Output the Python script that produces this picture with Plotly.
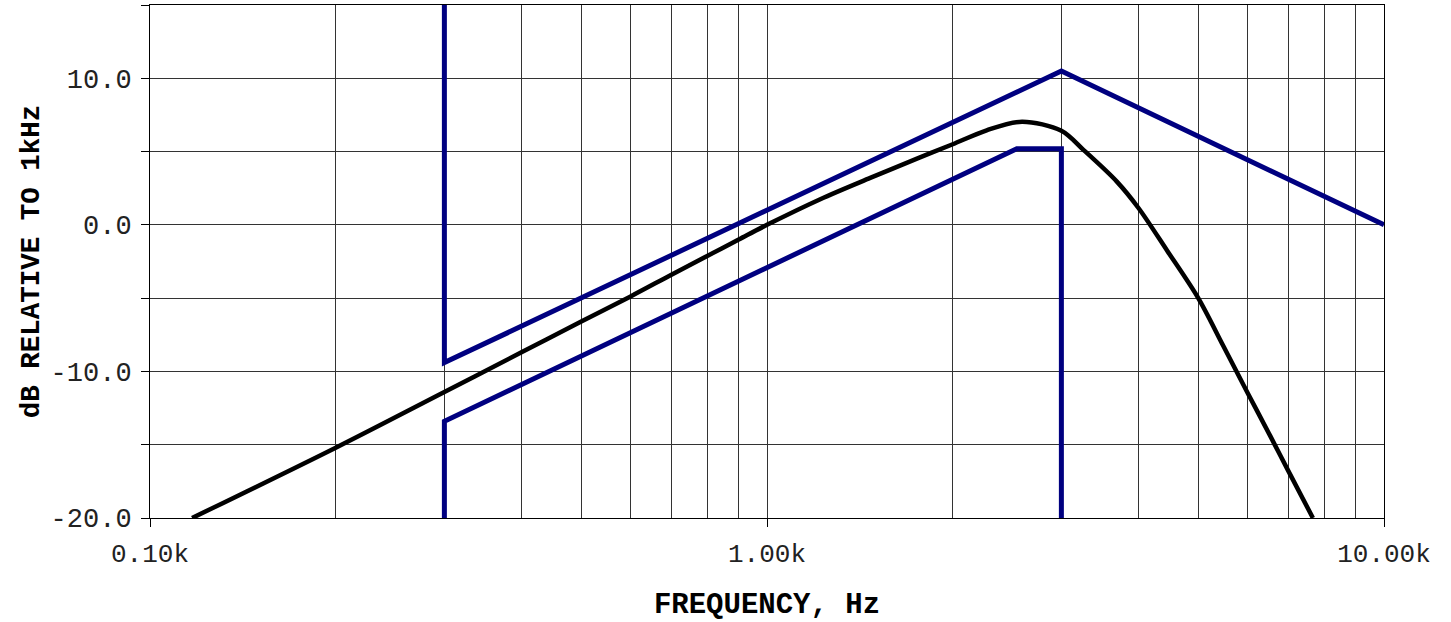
import plotly.graph_objects as go

# Measured response (frequency in Hz, level in dB relative to 1 kHz)
resp_freq = [117, 200, 300, 400, 500, 600, 700, 800, 900, 1000, 1220, 1470, 1770,
             2000, 2270, 2590, 3000, 3260, 3690, 4000, 4450, 5000, 5480, 6000,
             6540, 7000, 7670]
resp_db = [-20.0, -15.2, -11.4, -8.7, -6.6, -4.9, -3.4, -2.12, -1.0, 0.0, 1.75,
           3.2, 4.6, 5.5, 6.45, 7.04, 6.42, 5.1, 2.95, 1.15, -1.75, -5.0, -8.2,
           -11.4, -14.4, -16.8, -20.0]

# Upper tolerance limit
upper_freq = [300, 300, 3000, 10000]
upper_db = [15.0, -9.4, 10.5, 0.0]

# Lower tolerance limit
lower_freq = [300, 300, 2540, 3000, 3000]
lower_db = [-20.0, -13.4, 5.2, 5.2, -20.0]

# Axis ticks
x_tickvals = [100, 1000, 10000]
x_ticktext = ["0.10k", "1.00k", "10.00k"]
x_gridvals = [200, 300, 400, 500, 600, 700, 800, 900,
              2000, 3000, 4000, 5000, 6000, 7000, 8000, 9000]
y_tickvals = [-20, -15, -10, -5, 0, 5, 10, 15]
y_ticktext = ["-20.0", "", "-10.0", "", "0.0", "", "10.0", ""]

MONO = "Liberation Mono"
NAVY = "#000080"
GRID = "#333333"

fig = go.Figure()
fig.add_trace(go.Scatter(x=upper_freq, y=upper_db, mode="lines",
                         line=dict(color=NAVY, width=5), showlegend=False))
fig.add_trace(go.Scatter(x=lower_freq, y=lower_db, mode="lines",
                         line=dict(color=NAVY, width=5), showlegend=False))
fig.add_trace(go.Scatter(x=resp_freq, y=resp_db, mode="lines",
                         line=dict(color="black", width=4.5, shape="spline", smoothing=0.9),
                         showlegend=False))

fig.update_layout(
    width=1451, height=622,
    margin=dict(l=150, r=67, t=5, b=104),
    paper_bgcolor="white", plot_bgcolor="white",
    font=dict(family=MONO, color="black"),
)

fig.update_xaxes(
    type="log", range=[2, 4],
    tickvals=x_tickvals, ticktext=x_ticktext,
    tickfont=dict(family=MONO, size=26, color="#222"),
    ticks="outside", ticklen=8, tickcolor="black", ticklabelstandoff=4,
    showgrid=True, gridcolor=GRID, gridwidth=1,
    minor=dict(tickvals=x_gridvals, showgrid=True, gridcolor=GRID, gridwidth=1, ticks=""),
    showline=True, linecolor="black", linewidth=1, mirror=True,
    zeroline=False,
    title=dict(text="FREQUENCY, Hz", standoff=24,
               font=dict(family=MONO, size=29, weight=700, color="black")),
)
fig.update_yaxes(
    range=[-20, 15],
    tickvals=y_tickvals, ticktext=y_ticktext,
    tickfont=dict(family=MONO, size=27, color="#222"),
    ticks="outside", ticklen=8, tickcolor="black", ticklabelstandoff=4,
    showgrid=True, gridcolor=GRID, gridwidth=1,
    showline=True, linecolor="black", linewidth=1, mirror=True,
    zeroline=False,
    title=dict(text="dB RELATIVE TO 1kHz", standoff=2,
               font=dict(family=MONO, size=27.5, weight=700, color="black")),
)

fig.write_html("out.html")
